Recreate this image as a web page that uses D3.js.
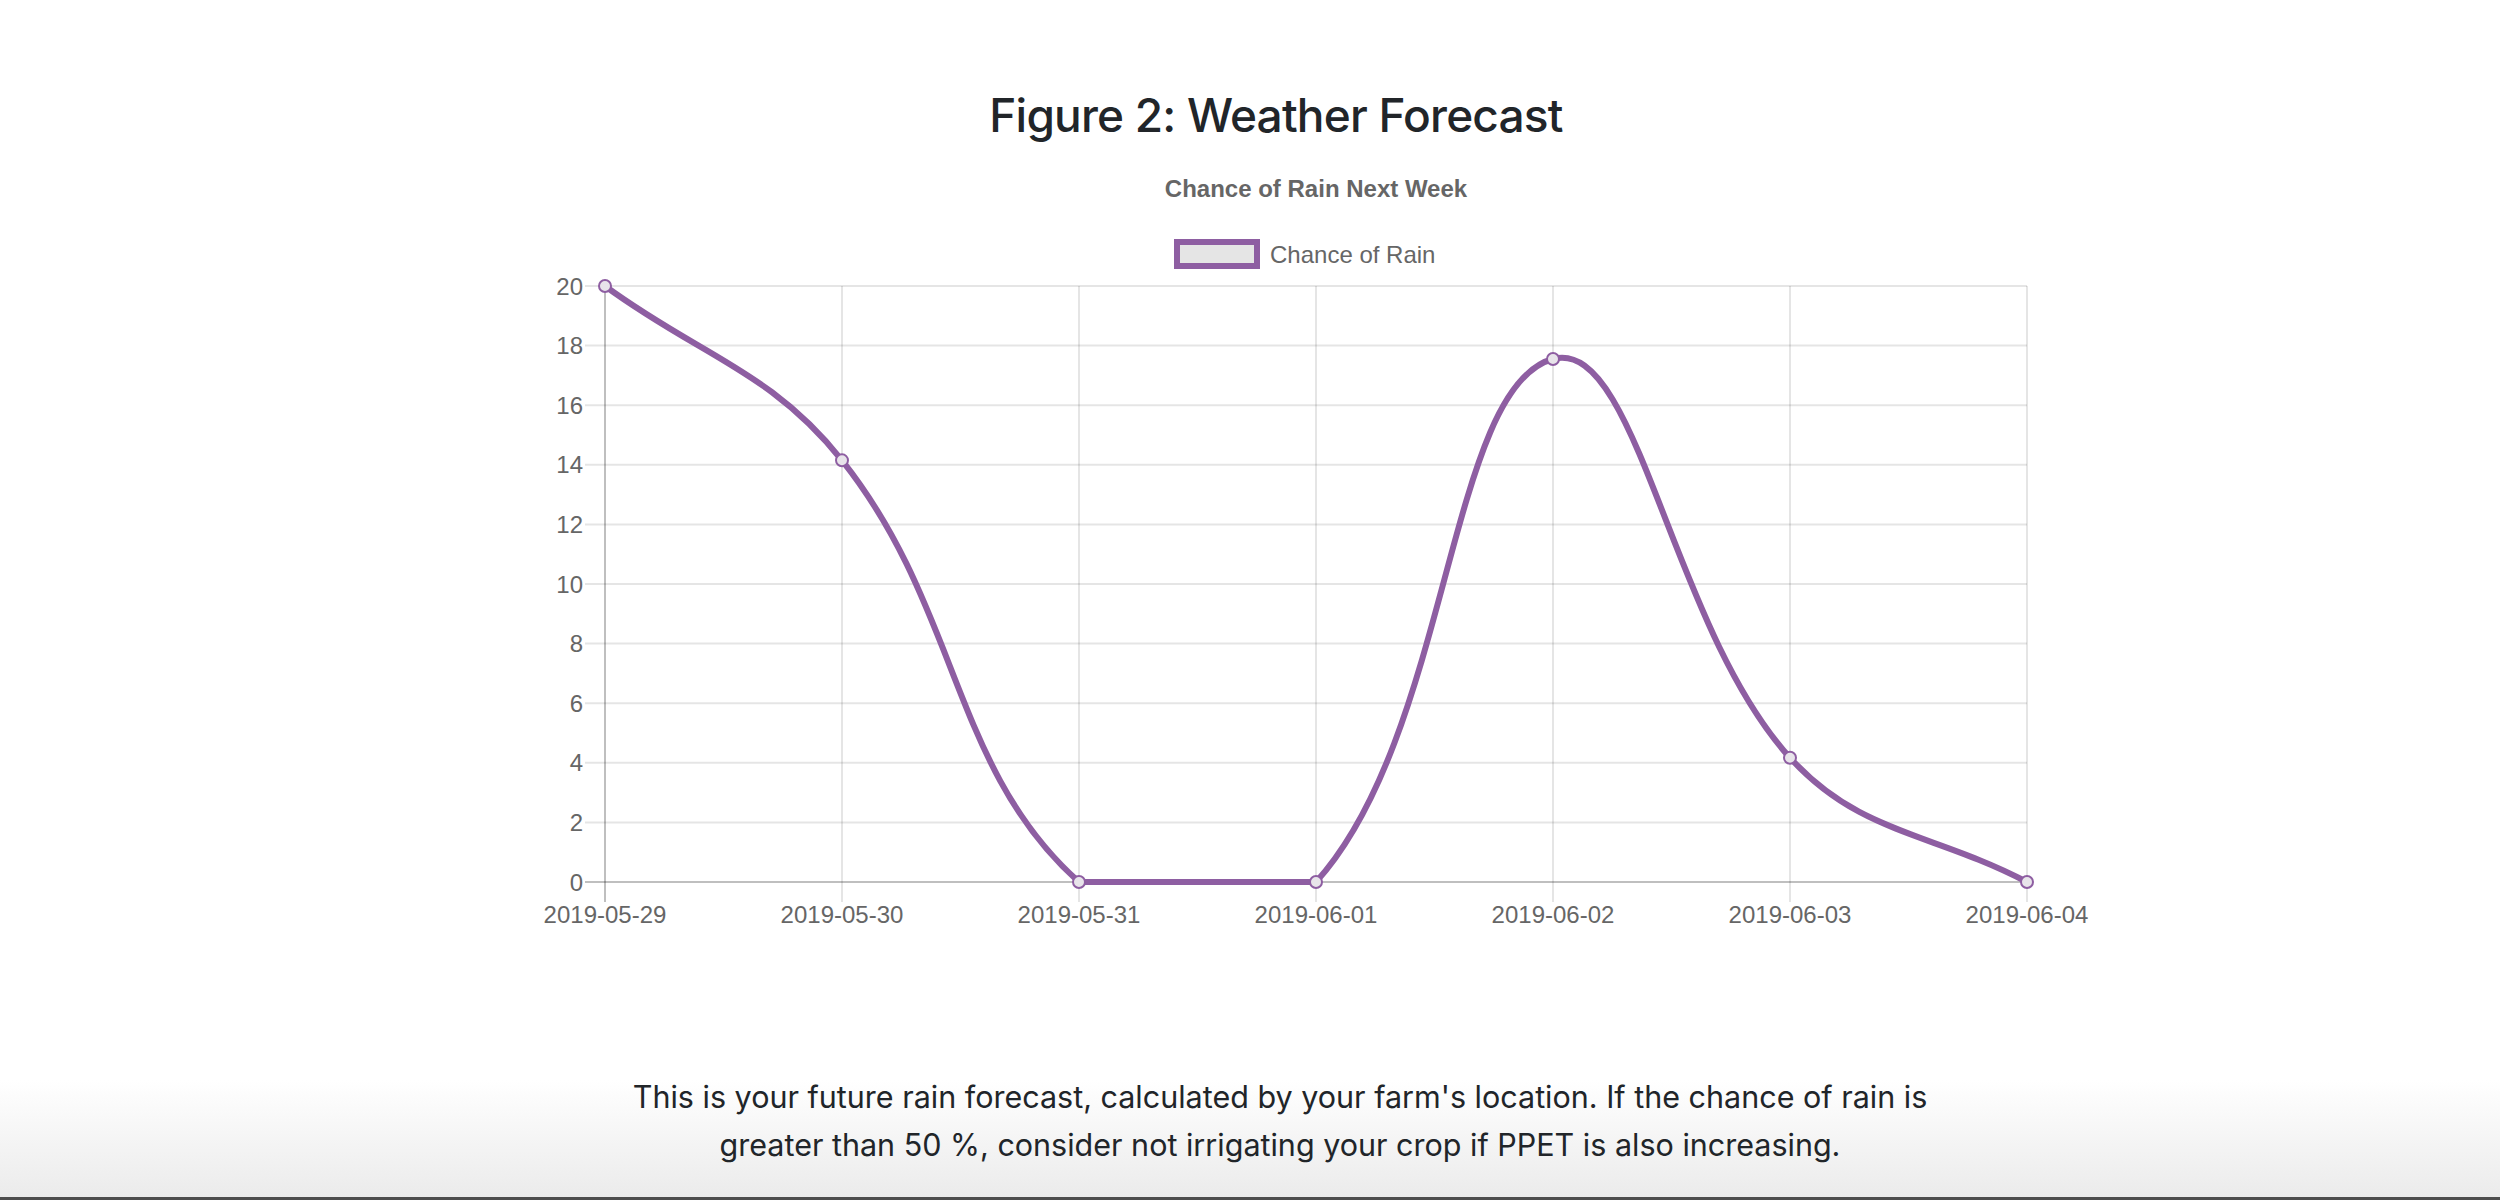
<!DOCTYPE html>
<html lang="en">
    <head>
        <meta charset="utf-8">
        <style>
            html, body {
              margin: 0;
              padding: 0;
              background: #fff;
            }
            .page-shade {
              position: absolute;
              left: 0;
              top: 1080px;
              width: 2500px;
              height: 117px;
              background: linear-gradient(#ffffff, #ebebeb);
            }
            .page-edge {
              position: absolute;
              left: 0;
              top: 1197px;
              width: 2500px;
              height: 3px;
              background: #4d4d4d;
            }
            svg {
              position: absolute;
              left: 0;
              top: 0;
            }
            .tick-label {
              font: 24px "Liberation Sans", Arial, sans-serif;
              fill: #666;
            }
        </style>
        <script src="https://d3js.org/d3.v7.min.js"></script>
    </head>

    <body>
        <div class="page-shade"></div>
        <div class="page-edge"></div>
        <svg width="2500" height="1200"></svg>

        <script>
            // chart values
            var dates = ["2019-05-29", "2019-05-30", "2019-05-31", "2019-06-01", "2019-06-02", "2019-06-03", "2019-06-04"];
            var rainChance = [20, 14.15, 0, 0, 17.55, 4.17, 0];
            var seriesName = "Chance of Rain";
            var pageTitle = "Figure 2: Weather Forecast";
            var chartTitle = "Chance of Rain Next Week";
            var noteLines = [
              "This is your future rain forecast, calculated by your farm's location. If the chance of rain is",
              "greater than 50 %, consider not irrigating your crop if PPET is also increasing."
            ];

            var purple = "#8e5ea2";
            var grid = "rgba(0,0,0,0.1)";
            var zeroGrid = "rgba(0,0,0,0.25)";

            var svg = d3.select("svg");

            // plot area
            var area = {left: 605, right: 2027, top: 286, bottom: 882};

            var x = d3.scalePoint()
                .domain(dates)
                .range([area.left, area.right]);

            var y = d3.scaleLinear()
                .domain([0, 20])
                .range([area.bottom, area.top]);

            // page title
            svg.append("text")
                .attr("x", 1276)
                .attr("y", 131.5)
                .attr("text-anchor", "middle")
                .style("font", "500 46px Inter, 'Noto Sans', sans-serif")
                .style("letter-spacing", "-0.8px")
                .style("fill", "#212529")
                .text(pageTitle);

            // chart title
            svg.append("text")
                .attr("x", 1316)
                .attr("y", 197)
                .attr("text-anchor", "middle")
                .style("font", "bold 24px 'Liberation Sans', Arial, sans-serif")
                .style("fill", "#666")
                .text(chartTitle);

            // legend
            var legend = svg.append("g").attr("transform", "translate(1177,242)");
            legend.append("rect")
                .attr("width", 80)
                .attr("height", 24)
                .attr("fill", "rgba(0,0,0,0.1)")
                .attr("stroke", purple)
                .attr("stroke-width", 6);
            legend.append("text")
                .attr("class", "tick-label")
                .attr("x", 93)
                .attr("y", 21)
                .text(seriesName);

            // horizontal grid lines + y labels
            var yTicks = y.ticks(10);
            svg.append("g")
              .selectAll("line")
              .data(yTicks)
              .enter()
                .append("line")
                .attr("x1", area.left - 20)
                .attr("x2", area.right)
                .attr("y1", function(d) { return y(d); })
                .attr("y2", function(d) { return y(d); })
                .attr("stroke", function(d) { return d === 0 ? zeroGrid : grid; })
                .attr("stroke-width", 2);

            svg.append("g")
              .selectAll("text")
              .data(yTicks)
              .enter()
                .append("text")
                .attr("class", "tick-label")
                .attr("x", area.left - 22)
                .attr("y", function(d) { return y(d) + 8.5; })
                .attr("text-anchor", "end")
                .text(function(d) { return d; });

            // vertical grid lines + x labels
            svg.append("g")
              .selectAll("line")
              .data(dates)
              .enter()
                .append("line")
                .attr("x1", function(d) { return x(d); })
                .attr("x2", function(d) { return x(d); })
                .attr("y1", area.top)
                .attr("y2", area.bottom + 20)
                .attr("stroke", function(d, i) { return i === 0 ? zeroGrid : grid; })
                .attr("stroke-width", 2);

            svg.append("g")
              .selectAll("text")
              .data(dates)
              .enter()
                .append("text")
                .attr("class", "tick-label")
                .attr("x", function(d) { return x(d); })
                .attr("y", 923)
                .attr("text-anchor", "middle")
                .text(function(d) { return d; });

            // spline like chart.js (tension 0.4, control points capped to the area)
            var pts = dates.map(function(d, i) { return {x: x(d), y: y(rainChance[i])}; });
            var tension = 0.4;
            pts.forEach(function(p, i) {
                var prev = pts[Math.max(i - 1, 0)];
                var next = pts[Math.min(i + 1, pts.length - 1)];
                var d01 = Math.hypot(p.x - prev.x, p.y - prev.y);
                var d12 = Math.hypot(next.x - p.x, next.y - p.y);
                var s01 = d01 / (d01 + d12) || 0;
                var s12 = d12 / (d01 + d12) || 0;
                var fa = tension * s01, fb = tension * s12;
                p.cpPrev = {x: p.x - fa * (next.x - prev.x), y: p.y - fa * (next.y - prev.y)};
                p.cpNext = {x: p.x + fb * (next.x - prev.x), y: p.y + fb * (next.y - prev.y)};
                [p.cpPrev, p.cpNext].forEach(function(c) {
                    c.x = Math.max(area.left, Math.min(area.right, c.x));
                    c.y = Math.max(area.top, Math.min(area.bottom, c.y));
                });
            });

            var path = d3.path();
            path.moveTo(pts[0].x, pts[0].y);
            for (var i = 1; i < pts.length; i++) {
                path.bezierCurveTo(pts[i - 1].cpNext.x, pts[i - 1].cpNext.y,
                                   pts[i].cpPrev.x, pts[i].cpPrev.y,
                                   pts[i].x, pts[i].y);
            }

            svg.append("path")
                .attr("d", path.toString())
                .attr("fill", "none")
                .attr("stroke", purple)
                .attr("stroke-width", 6)
                .attr("stroke-linejoin", "round");

            svg.append("g")
              .selectAll("circle")
              .data(pts)
              .enter()
                .append("circle")
                .attr("cx", function(d) { return d.x; })
                .attr("cy", function(d) { return d.y; })
                .attr("r", 6)
                .attr("fill", "#e8e4ea")
                .attr("stroke", purple)
                .attr("stroke-width", 2);

            // note under the chart
            svg.append("g")
              .selectAll("text")
              .data(noteLines)
              .enter()
                .append("text")
                .attr("x", 1280)
                .attr("y", function(d, i) { return 1108 + i * 48; })
                .attr("text-anchor", "middle")
                .style("font", "30.5px Inter, 'Noto Sans', sans-serif")
                .style("fill", "#212529")
                .text(function(d) { return d; });
        </script>
    </body>
</html>
